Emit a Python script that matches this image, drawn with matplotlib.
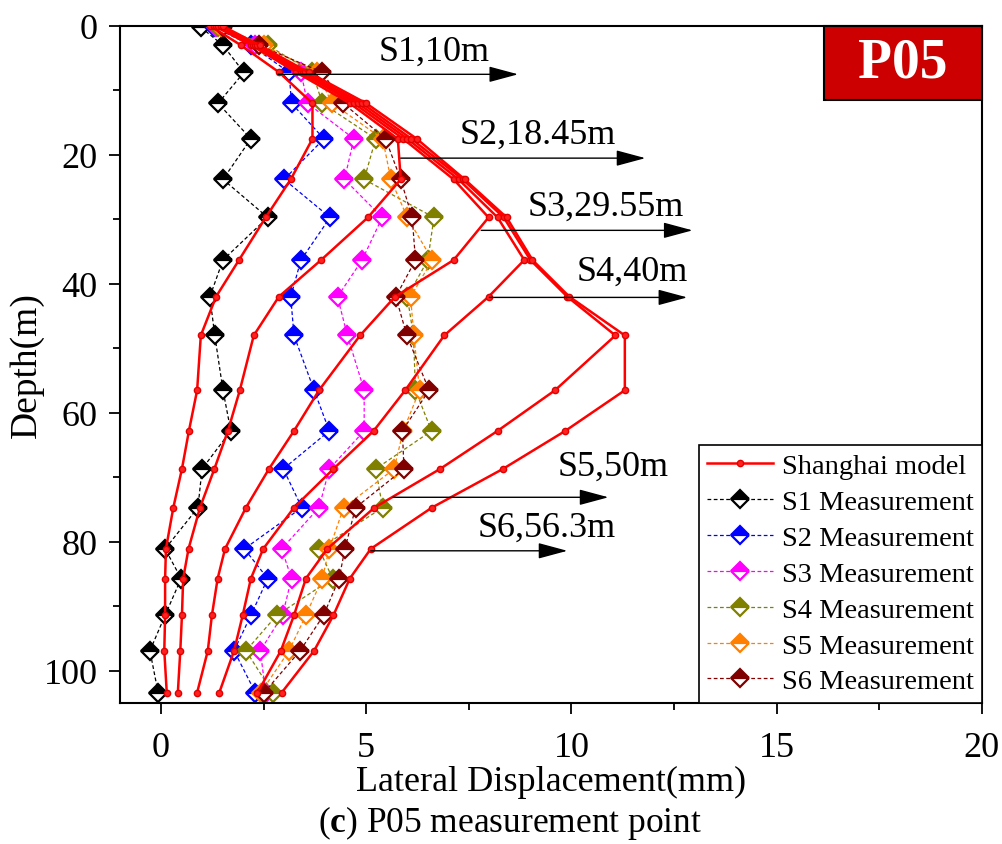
import matplotlib
matplotlib.use("Agg")
import matplotlib.pyplot as plt
from matplotlib.patches import Rectangle
from matplotlib.ticker import MultipleLocator

plt.rcParams['font.family'] = ['Liberation Serif', 'DejaVu Serif']
plt.rcParams['mathtext.fontset'] = 'custom'
plt.rcParams['mathtext.rm'] = 'Liberation Serif'
plt.rcParams['mathtext.bf'] = 'Liberation Serif:bold'

# depths (m)
depth_model = [0, 3, 7.2, 12, 17.5, 23.8, 29.7, 36.3, 42, 48, 56.5, 62.8,
               68.7, 74.7, 81.1, 85.7, 91.4, 96.9, 103.4]
depth_meas = [0.2, 3, 7.2, 12, 17.5, 23.8, 29.7, 36.3, 42, 48, 56.5, 62.8,
              68.7, 74.7, 81.1, 85.7, 91.4, 96.9, 103.4]

# Shanghai model, lateral displacement (mm) per stage
model_s1 = [1.2, 1.95, 2.88, 3.69, 3.69, 3.16, 2.55, 1.9, 1.34, 0.97, 0.88,
            0.68, 0.51, 0.30, 0.12, 0.10, 0.10, 0.08, 0.14]
model_s2 = [1.3, 2.2, 3.3, 4.6, 5.77, 5.84, 5.04, 3.9, 2.87, 2.26, 1.92,
            1.63, 1.3, 0.95, 0.67, 0.54, 0.51, 0.47, 0.41]
model_s3 = [1.35, 2.25, 3.4, 4.7, 5.9, 7.13, 7.98, 7.13, 5.7, 4.85, 3.85,
            3.24, 2.63, 2.07, 1.56, 1.38, 1.24, 1.14, 0.88]
model_s4 = [1.4, 2.3, 3.45, 4.8, 6.0, 7.25, 8.2, 8.85, 7.98, 6.9, 5.95,
            5.18, 4.2, 3.24, 2.49, 2.19, 1.99, 1.78, 1.42]
model_s5 = [1.45, 2.35, 3.5, 4.9, 6.1, 7.35, 8.35, 9.0, 9.9, 11.07, 9.6,
            8.2, 6.8, 5.2, 4.05, 3.53, 3.24, 2.92, 2.35]
model_s6 = [1.5, 2.4, 3.6, 5.0, 6.23, 7.4, 8.42, 9.05, 9.95, 11.3, 11.3,
            9.85, 8.33, 6.6, 5.11, 4.6, 4.2, 3.73, 2.94]

# inclinometer measurements (mm)
meas_s1 = [0.97, 1.51, 2.02, 1.39, 2.19, 1.51, 2.60, 1.51, 1.19, 1.31, 1.51,
           1.70, 1.0, 0.9, 0.1, 0.49, 0.1, -0.27, -0.07]
meas_s2 = [1.3, 2.19, 3.12, 3.18, 3.97, 3.0, 4.12, 3.41, 3.16, 3.24, 3.73,
           4.1, 2.98, 3.43, 2.03, 2.6, 2.19, 1.78, 2.3]
meas_s3 = [1.35, 2.3, 3.41, 3.57, 4.7, 4.47, 5.39, 4.9, 4.3, 4.54, 4.95,
           4.95, 4.1, 3.85, 2.94, 3.18, 2.96, 2.42, 2.55]
meas_s4 = [1.4, 2.6, 3.69, 3.93, 5.23, 4.95, 6.65, 6.5, 6.0, 6.15, 6.2,
           6.59, 5.23, 5.4, 3.85, 4.18, 2.82, 2.07, 2.72]
meas_s5 = [1.45, 2.5, 3.8, 4.17, 5.4, 5.6, 6.0, 6.61, 6.08, 6.16, 6.3,
           5.9, 5.68, 4.45, 4.1, 3.93, 3.53, 3.12, 2.43]
meas_s6 = [1.5, 2.39, 3.93, 4.44, 5.47, 5.84, 6.12, 6.2, 5.72, 5.99, 6.53,
           5.88, 5.92, 4.74, 4.48, 4.34, 3.96, 3.39, 2.51]

meas_colors = ['black', '#0000FF', '#FF00FF', '#808000', '#FF8000', '#800000']
meas_labels = ['S1 Measurement', 'S2 Measurement', 'S3 Measurement',
               'S4 Measurement', 'S5 Measurement', 'S6 Measurement']

# stage annotations: text, arrow depth, arrow start x, arrow end x, text x, text y
stage_text = ['S1,10m', 'S2,18.45m', 'S3,29.55m', 'S4,40m', 'S5,50m', 'S6,56.3m']
arrow_depth = [7.5, 20.5, 31.7, 42.1, 73.1, 81.4]
arrow_x0 = [2.85, 5.84, 7.8, 8.0, 5.65, 5.11]
arrow_x1 = [8.7, 11.8, 12.95, 12.82, 10.9, 9.9]
text_x = [6.65, 9.17, 10.83, 11.48, 11.02, 9.39]
text_y = [3.9, 16.8, 27.9, 38.0, 68.3, 77.8]


def main():
    fig = plt.figure(figsize=(10.03, 8.45), dpi=100)
    ax = fig.add_axes([0.1196, 0.1669, 0.8594, 0.8012])

    models = [model_s1, model_s2, model_s3, model_s4, model_s5, model_s6]
    for i, m in enumerate(models):
        ax.plot(m, depth_model, '-', color='#FF0000', lw=1.8, marker='o',
                ms=4.5, mfc='#FF2020', mec='#E00000',
                label='Shanghai model' if i == 0 else None, zorder=3)

    meas = [meas_s1, meas_s2, meas_s3, meas_s4, meas_s5, meas_s6]
    for m, c, lab in zip(meas, meas_colors, meas_labels):
        ax.plot(m, depth_meas, linestyle=(0, (3, 2)), color=c, lw=0.9,
                marker='D', ms=9, mfc=c, mec=c, mew=1.6, fillstyle='top',
                markerfacecoloralt='white', label=lab, zorder=2)

    for t, d, x0, x1, tx, ty in zip(stage_text, arrow_depth, arrow_x0,
                                    arrow_x1, text_x, text_y):
        ax.annotate('', xy=(x1, d), xytext=(x0, d),
                    arrowprops=dict(arrowstyle='-|>,head_length=1.3,head_width=0.35',
                                    color='black', lw=1.0, shrinkA=0, shrinkB=0,
                                    mutation_scale=14), zorder=4)
        ax.text(tx, ty, t, fontsize=26, ha='center', va='center', zorder=5)

    ax.set_xlim(-1, 20)
    ax.set_ylim(105, 0)
    ax.xaxis.set_major_locator(MultipleLocator(5))
    ax.xaxis.set_minor_locator(MultipleLocator(2.5))
    ax.yaxis.set_major_locator(MultipleLocator(20))
    ax.yaxis.set_minor_locator(MultipleLocator(10))
    ax.tick_params(which='major', direction='out', length=8, width=1.3,
                   labelsize=26)
    ax.tick_params(axis='x', which='major', pad=12)
    ax.tick_params(axis='y', which='major', pad=8)
    ax.tick_params(which='minor', direction='out', length=5, width=1.3)
    ax.tick_params(top=False, right=False, which='both')
    for s in ax.spines.values():
        s.set_linewidth(1.5)

    ax.set_xlabel('Lateral Displacement(mm)', fontsize=26, labelpad=1)
    ax.set_ylabel('Depth(m)', fontsize=27, labelpad=0)

    # P05 badge
    ax.add_patch(Rectangle((0.8167, 0.8907), 0.1833, 0.1093,
                           transform=ax.transAxes, facecolor='#CC0000',
                           edgecolor='black', lw=1.5, zorder=6, clip_on=False))
    ax.text(0.9083, 0.9453, 'P05', transform=ax.transAxes, color='white',
            fontsize=40, fontweight='bold', ha='center', va='center', zorder=7)

    leg = ax.legend(loc='lower right', borderaxespad=0, fontsize=20.5,
                    fancybox=False, framealpha=1, edgecolor='black',
                    handlelength=2.3, handletextpad=0.3, labelspacing=0.35,
                    borderpad=0.3)
    leg.get_frame().set_linewidth(1.2)

    fig.text(0.508, 0.026, r'($\mathbf{c}$) P05 measurement point',
             fontsize=25.5, ha='center', va='center')

    fig.savefig('out.png', dpi=100)


if __name__ == "__main__":
    main()
